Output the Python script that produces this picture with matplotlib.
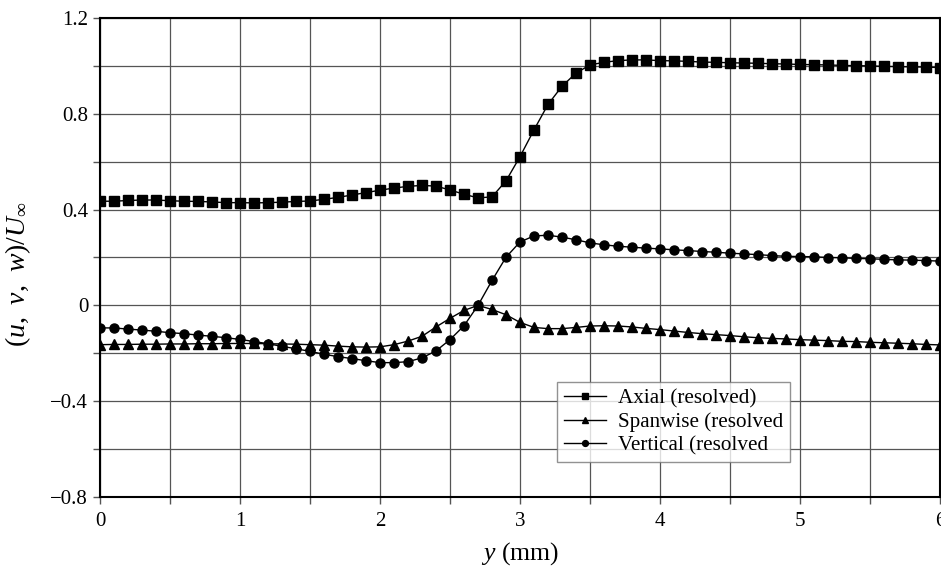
import numpy as np
import matplotlib
matplotlib.use("Agg")
import matplotlib.pyplot as plt
from matplotlib.ticker import MultipleLocator

plt.rcParams['font.family'] = 'Liberation Serif'
plt.rcParams['mathtext.fontset'] = 'custom'
plt.rcParams['mathtext.rm'] = 'Liberation Serif'
plt.rcParams['mathtext.it'] = 'Liberation Serif:italic'

# y positions (mm), one sample every 0.1 mm
y_mm = [round(0.1 * i, 1) for i in range(61)]

axial = [0.435, 0.435, 0.438, 0.440, 0.440, 0.437, 0.435, 0.434, 0.432, 0.429,
         0.429, 0.428, 0.429, 0.431, 0.434, 0.436, 0.443, 0.451, 0.461, 0.471,
         0.481, 0.490, 0.497, 0.501, 0.498, 0.482, 0.464, 0.449, 0.453, 0.520,
         0.621, 0.733, 0.839, 0.915, 0.970, 1.004, 1.015, 1.022, 1.025, 1.025,
         1.022, 1.021, 1.019, 1.016, 1.015, 1.013, 1.012, 1.011, 1.009, 1.008,
         1.006, 1.005, 1.004, 1.002, 1.001, 1.000, 0.998, 0.997, 0.996, 0.995,
         0.993]

spanwise = [-0.164, -0.163, -0.163, -0.162, -0.162, -0.161, -0.161, -0.160, -0.160, -0.159,
            -0.159, -0.159, -0.160, -0.161, -0.162, -0.164, -0.166, -0.170, -0.173, -0.174,
            -0.173, -0.164, -0.149, -0.129, -0.090, -0.054, -0.021, 0.000, -0.017, -0.039,
            -0.071, -0.092, -0.097, -0.097, -0.092, -0.086, -0.085, -0.086, -0.090, -0.096,
            -0.101, -0.107, -0.113, -0.118, -0.122, -0.126, -0.131, -0.135, -0.138, -0.140,
            -0.143, -0.145, -0.147, -0.150, -0.151, -0.154, -0.156, -0.158, -0.160, -0.163,
            -0.165]

vertical = [-0.094, -0.094, -0.099, -0.103, -0.108, -0.114, -0.118, -0.124, -0.129, -0.135,
            -0.142, -0.151, -0.160, -0.171, -0.181, -0.192, -0.204, -0.214, -0.222, -0.231,
            -0.239, -0.239, -0.235, -0.219, -0.190, -0.143, -0.085, 0.000, 0.104, 0.201,
            0.265, 0.290, 0.293, 0.285, 0.274, 0.261, 0.253, 0.247, 0.243, 0.239,
            0.236, 0.232, 0.229, 0.225, 0.222, 0.218, 0.215, 0.212, 0.208, 0.205,
            0.204, 0.203, 0.200, 0.199, 0.196, 0.195, 0.192, 0.190, 0.189, 0.187,
            0.185]

labels = ['Axial (resolved)', 'Spanwise (resolved', 'Vertical (resolved']

fig = plt.figure(figsize=(9.41, 5.67), dpi=100)
ax = fig.add_axes([100 / 941, 1 - 497 / 567, 840 / 941, 479 / 567])

ax.plot(y_mm, axial, color='black', lw=1.0, marker='s', ms=6.5, label=labels[0])
ax.plot(y_mm, spanwise, color='black', lw=1.0, marker='^', ms=6.5, label=labels[1])
ax.plot(y_mm, vertical, color='black', lw=1.0, marker='o', ms=6.5, label=labels[2])

ax.set_xlim(0, 6)
ax.set_ylim(-0.8, 1.2)
ax.xaxis.set_minor_locator(MultipleLocator(0.5))
ax.yaxis.set_minor_locator(MultipleLocator(0.2))
ax.set_yticks([-0.8, -0.4, 0, 0.4, 0.8, 1.2])
ax.set_yticklabels(['\u22120.8', '\u22120.4', '0', '0.4', '0.8', '1.2'])
ax.set_xticks([0, 1, 2, 3, 4, 5, 6])
ax.set_xticklabels(['0', '1', '2', '3', '4', '5', '6'])
ax.tick_params(which='both', direction='out', length=5, width=1, labelsize=15, color='#555555')
ax.tick_params(axis='x', pad=6)
ax.grid(True, which='both', color='#555555', lw=0.9)
ax.set_axisbelow(True)
for s in ax.spines.values():
    s.set_linewidth(1.5)

ax.set_xlabel(r'$y$ (mm)', fontsize=18.5)
ax.xaxis.set_label_coords(0.5, -0.09)
ax.set_ylabel(r'$(u,\;\,v,\;\,w)/U_\infty$', fontsize=20)
ax.yaxis.set_label_coords(-0.08, 0.466)

leg = ax.legend(loc='upper left', bbox_to_anchor=(0.544, 0.24), borderaxespad=0,
                fontsize=15.2, frameon=True, fancybox=False, edgecolor='#777777',
                handlelength=2.0, handletextpad=0.55, labelspacing=0.18, borderpad=0.32,
                markerscale=0.65)
leg.get_frame().set_linewidth(1.0)

fig.savefig('out.png', dpi=100)
